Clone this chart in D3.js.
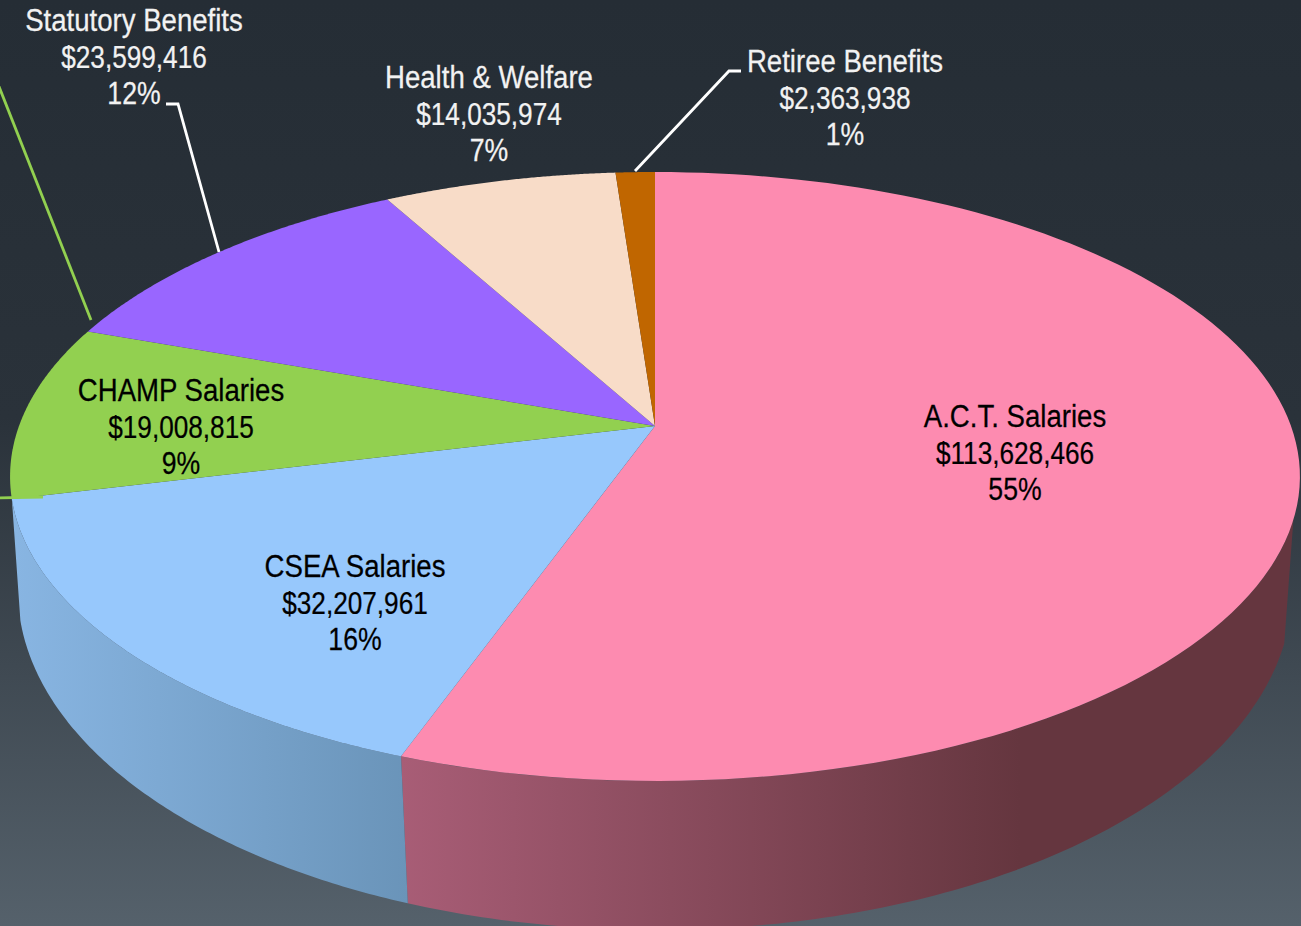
<!DOCTYPE html>
<html><head><meta charset="utf-8">
<script src="https://cdn.jsdelivr.net/npm/d3@7/dist/d3.min.js"></script>
<style>html,body{margin:0;padding:0;background:#262e36;overflow:hidden}svg{display:block}
text{font-family:"Liberation Sans",sans-serif;font-size:31px;text-anchor:middle;stroke-width:.25px}</style>
</head><body><div id="c"></div>
<script>
// ---- data ----
const categories = ["A.C.T. Salaries","CSEA Salaries","CHAMP Salaries","Statutory Benefits","Health & Welfare","Retiree Benefits"];
const amounts = [113628466,32207961,19008815,23599416,14035974,2363938];
const sliceColors = ["#FD8BB0","#97C8FC","#92D050","#9966FF","#F8DCC8","#C06600"];
const labelColors = ["#000","#000","#000","#F2F2F2","#F2F2F2","#F2F2F2"];
const labelCentres = [[1015,427],[355,577],[181,401],[134,31],[489,88],[845,72]];
const lineSqueeze = [0.89,0.845,0.86];
const leaders = [
  {color:"#fff",pts:[[166,104],[178,104],[219,252]]},
  {color:"#fff",pts:[[741,71],[729,71],[635,171]]},
  {color:"#92D050",pts:[[-2,84],[91,320]]},
  {color:"#92D050",pts:[[-2,498],[43,497]]}
];
const W=1301,H=926,lineGap=36.7;
// perspective discs: a unit circle seen by a tilted camera
const topDisc={cx:655,cy:426,a:636,c:296.1,k:0.1658};
const botDisc={cx:655,cy:539,a:630,c:332.3,k:0.15};
const wallStart=107.5*Math.PI/180;
const project=(d,t)=>{const u=Math.sin(t),v=-Math.cos(t),w=1-d.k*v;return [d.cx+d.a*u/w,d.cy+d.c*v/w];};
const arcPts=(d,a0,a1)=>d3.range(0,121).map(i=>project(d,a0+(a1-a0)*i/120));
const line=d3.line();

const pie=d3.pie().sort(null).startAngle(0).endAngle(2*Math.PI);
const slices=pie(amounts);
const total=d3.sum(amounts);
const fmt=d3.format("$,"),pct=d3.format(".0%");

const svg=d3.select("#c").append("svg").attr("width",W).attr("height",H);
const defs=svg.append("defs");
const bg=defs.append("linearGradient").attr("id","bg").attr("x1",0).attr("x2",0).attr("y1",0).attr("y2",1);
[[0,"#252d35"],[.45,"#2a323a"],[1,"#55616b"]].forEach(s=>bg.append("stop").attr("offset",s[0]).attr("stop-color",s[1]));
const grad=(id,x1,x2,stops)=>{const g=defs.append("linearGradient").attr("id",id).attr("gradientUnits","userSpaceOnUse").attr("x1",x1).attr("x2",x2).attr("y1",0).attr("y2",0);
 stops.forEach(s=>g.append("stop").attr("offset",s[0]).attr("stop-color",s[1]));};
grad("wall0",402,1020,[[0,"#A85D76"],[1,"#65363F"]]);
grad("wall1",15,408,[[0,"#88B5E2"],[1,"#6A94B9"]]);
svg.append("rect").attr("width",W).attr("height",H).attr("fill","url(#bg)");

// side walls, front-facing parts only
[0,1].forEach(i=>{
  const a0=Math.max(slices[i].startAngle,wallStart),a1=slices[i].endAngle;
  const pts=arcPts(topDisc,a0,a1).concat(arcPts(botDisc,a0,a1).reverse());
  svg.append("path").attr("d",line(pts)+"Z").attr("fill",`url(#wall${i})`);
});
// top face
svg.selectAll("path.slice").data(slices).join("path").attr("class","slice")
  .attr("d",s=>line([[topDisc.cx,topDisc.cy]].concat(arcPts(topDisc,s.startAngle,s.endAngle)))+"Z")
  .attr("fill",(s,i)=>sliceColors[i]);
// leaders
svg.selectAll("path.leader").data(leaders).join("path").attr("class","leader")
  .attr("d",l=>line(l.pts)).attr("fill","none").attr("stroke",l=>l.color).attr("stroke-width",2.8);
// labels
categories.forEach((name,i)=>{
  const [x,y]=labelCentres[i];
  [name,fmt(amounts[i]),pct(amounts[i]/total)].forEach((s,j)=>
    svg.append("text").attr("fill",labelColors[i]).attr("stroke",labelColors[i])
      .attr("transform",`translate(${x},${y+j*lineGap}) scale(${lineSqueeze[j]},1)`).text(s));
});
</script></body></html>
